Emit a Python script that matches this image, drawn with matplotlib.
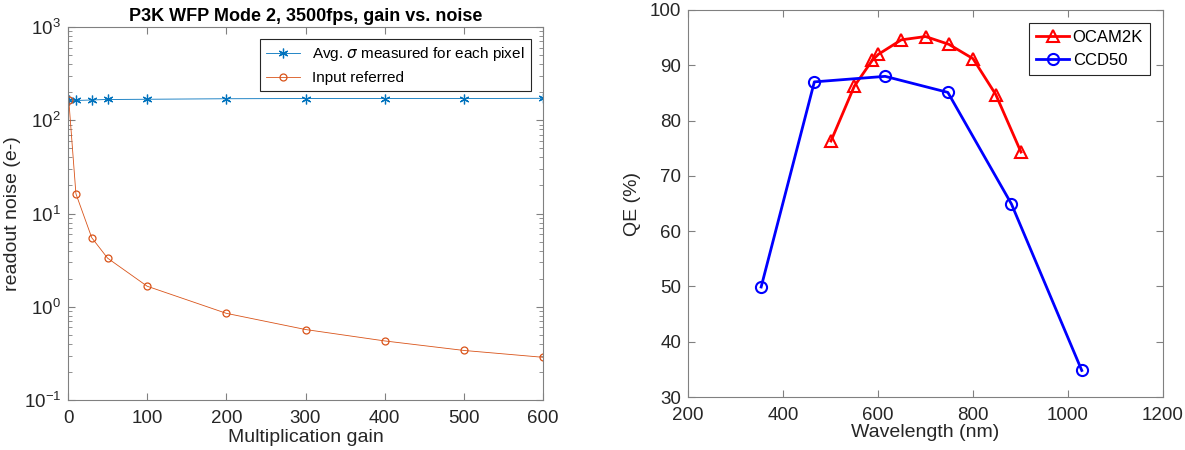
import matplotlib
matplotlib.use("Agg")
import matplotlib.pyplot as plt
import matplotlib.ticker as ticker

plt.rcParams['font.family'] = ['Liberation Sans', 'DejaVu Sans']
plt.rcParams['mathtext.fontset'] = 'dejavusans'

# left panel: gain vs noise
gain = [1, 10, 30, 50, 100, 200, 300, 400, 500, 600]
sigma_measured = [164, 163, 165, 167, 168, 170, 171, 171, 171, 172]
input_referred = [164, 16.3, 5.5, 3.32, 1.66, 0.85, 0.57, 0.43, 0.34, 0.287]

# right panel: QE vs wavelength
ocam_wl = [501, 550, 588, 601, 649, 700, 749, 800, 848, 901]
ocam_qe = [76.3, 86.2, 90.9, 92.0, 94.6, 95.2, 93.8, 91.2, 84.7, 74.3]
ccd_wl = [354, 466, 615, 747, 881, 1029]
ccd_qe = [49.9, 87.0, 88.0, 85.1, 64.9, 34.8]

txt = '#262626'
axc = '#808080'

fig = plt.figure(figsize=(11.85, 4.5), dpi=100)
ax1 = fig.add_axes([68/1185, 1-400/450, (543-68)/1185, (400-27)/450])
ax2 = fig.add_axes([688/1185, 1-397/450, (1163-688)/1185, (397-10)/450])

def matlab_style(ax):
    for s in ax.spines.values():
        s.set_color(axc)
        s.set_linewidth(0.8)
    ax.tick_params(direction='in', which='both', top=True, right=True,
                   colors=axc, labelcolor=txt, labelsize=13.5)
    ax.tick_params(which='major', length=5)
    ax.tick_params(which='minor', length=3)
    ax.tick_params(axis='x', pad=7)
    ax.tick_params(axis='y', pad=5)

ax1.plot(gain, sigma_measured, '-', marker=(6, 2, 0), color='#0072BD',
         lw=0.6, ms=7, mew=0.9, label=r'Avg. $\sigma$ measured for each pixel')
ax1.plot(gain, input_referred, '-o', color='#D95319', lw=0.6, ms=5,
         mfc='none', mew=0.9, label='Input referred')
ax1.set_yscale('log')
ax1.set_xlim(0, 600)
ax1.set_ylim(0.1, 1000)
ax1.set_xticks([0, 100, 200, 300, 400, 500, 600])
ax1.yaxis.set_minor_locator(ticker.LogLocator(base=10, subs=range(2, 10), numticks=20))
ax1.yaxis.set_minor_formatter(ticker.NullFormatter())
matlab_style(ax1)
ax1.set_xlabel('Multiplication gain', fontsize=14, color=txt, labelpad=2)
ax1.set_ylabel('readout noise (e-)', fontsize=14, color=txt, labelpad=2)
ax1.set_title('P3K WFP Mode 2, 3500fps, gain vs. noise', fontsize=13,
              fontweight='bold', pad=4)
leg1 = ax1.legend(loc='upper right', fontsize=11, fancybox=False,
                  edgecolor='#262626', framealpha=1, borderaxespad=0.8,
                  handlelength=2.2)
leg1.get_frame().set_linewidth(0.8)

ax2.plot(ocam_wl, ocam_qe, '-^', color='red', lw=2, ms=8, mfc='none',
         mew=1.5, label='OCAM2K')
ax2.plot(ccd_wl, ccd_qe, '-o', color='blue', lw=2, ms=8, mfc='none',
         mew=1.5, label='CCD50')
ax2.set_xlim(200, 1200)
ax2.set_ylim(30, 100)
ax2.set_xticks(range(200, 1201, 200))
ax2.set_yticks(range(30, 101, 10))
matlab_style(ax2)
ax2.set_xlabel('Wavelength (nm)', fontsize=14, color=txt, labelpad=0)
ax2.set_ylabel('QE (%)', fontsize=14, color=txt, labelpad=6)
leg2 = ax2.legend(loc='upper right', fontsize=12, fancybox=False,
                  edgecolor='#262626', framealpha=1, borderaxespad=0.8,
                  handlelength=2.0, handletextpad=0.2)
leg2.get_frame().set_linewidth(0.8)

fig.savefig('out.png', dpi=100)
